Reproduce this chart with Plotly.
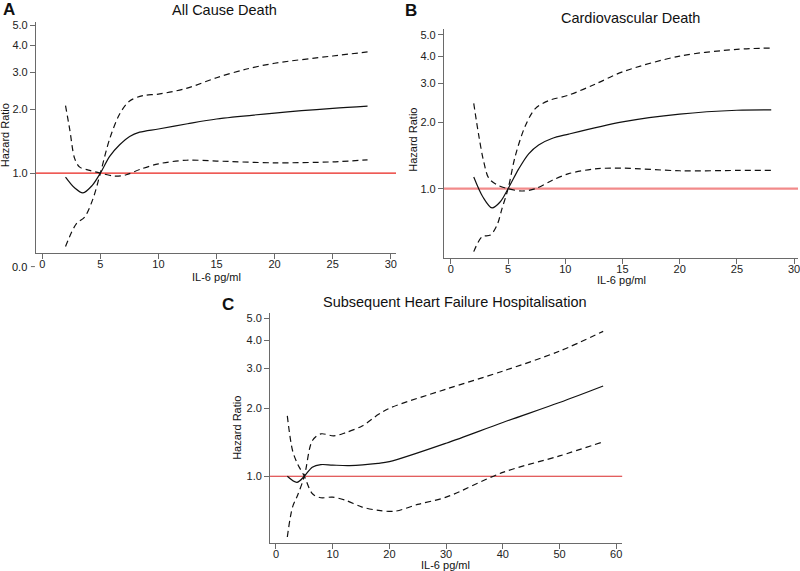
import plotly.graph_objects as go

# ---------------- Panel A: All Cause Death ----------------
a_x_hr = [2.0, 2.8, 3.5, 4.3, 5.0, 5.8, 6.66, 7.52, 8.38, 10.0, 12.5, 15.0, 20.0, 25.0, 28.0]
a_hr = [0.958, 0.85, 0.806, 0.875, 1.0, 1.20, 1.36, 1.49, 1.56, 1.615, 1.71, 1.80, 1.92, 2.02, 2.07]
a_x_ci1 = [2.0, 2.36, 2.79, 3.22, 4.08, 5.0, 6.23, 7.23, 8.38, 10.0, 12.4, 15.0, 20.0, 25.0, 28.0]
a_ci1 = [2.08, 1.61, 1.17, 1.067, 1.03, 1.0, 0.968, 0.982, 1.04, 1.106, 1.15, 1.14, 1.118, 1.13, 1.155]
a_x_ci2 = [2.0, 2.94, 3.65, 4.37, 5.0, 5.8, 6.66, 7.52, 8.66, 10.0, 12.4, 15.0, 17.5, 20.0, 25.0, 28.0]
a_ci2 = [0.45, 0.578, 0.621, 0.758, 1.0, 1.45, 1.90, 2.19, 2.32, 2.36, 2.51, 2.82, 3.09, 3.30, 3.57, 3.73]

# ---------------- Panel B: Cardiovascular Death ----------------
b_x_hr = [2.0, 2.8, 3.6, 4.3, 5.0, 5.93, 6.8, 7.67, 8.83, 10.3, 15.0, 20.0, 25.0, 28.0]
b_hr = [1.13, 0.917, 0.818, 0.87, 1.0, 1.23, 1.44, 1.58, 1.69, 1.77, 2.01, 2.18, 2.27, 2.28]
b_x_ci1 = [2.0, 2.44, 2.88, 3.31, 4.04, 5.0, 6.22, 7.38, 8.83, 10.3, 12.6, 15.0, 20.0, 25.0, 28.0]
b_ci1 = [2.44, 1.74, 1.32, 1.117, 1.04, 1.0, 0.976, 1.0, 1.09, 1.17, 1.23, 1.24, 1.206, 1.21, 1.21]
b_x_ci2 = [2.0, 2.73, 3.46, 4.04, 4.47, 5.0, 5.64, 6.51, 7.38, 8.54, 10.3, 12.6, 15.0, 20.0, 25.0, 28.0]
b_ci2 = [0.518, 0.605, 0.616, 0.684, 0.812, 1.0, 1.415, 1.93, 2.31, 2.51, 2.66, 2.98, 3.39, 4.0, 4.29, 4.35]

# ---------------- Panel C: Subsequent HF Hospitalisation ----------------
c_x_hr = [2.0, 3.7, 5.0, 6.4, 7.9, 10.0, 13.0, 18.0, 20.0, 30.0, 40.0, 50.0, 57.7]
c_hr = [1.0, 0.94, 1.0, 1.096, 1.126, 1.12, 1.115, 1.14, 1.16, 1.40, 1.73, 2.12, 2.51]
c_x_ci1 = [2.0, 2.92, 3.8, 5.0, 6.43, 7.9, 9.95, 12.3, 15.2, 18.1, 21.0, 25.0, 30.0, 40.0, 50.0, 57.7]
c_ci1 = [1.85, 1.30, 1.135, 1.0, 0.836, 0.803, 0.808, 0.782, 0.73, 0.706, 0.70, 0.75, 0.808, 1.04, 1.23, 1.42]
c_x_ci2 = [2.0, 2.92, 3.8, 5.0, 6.43, 7.9, 10.2, 12.3, 15.2, 18.1, 20.0, 30.0, 40.0, 50.0, 57.7]
c_ci2 = [0.538, 0.73, 0.822, 1.0, 1.44, 1.54, 1.51, 1.56, 1.67, 1.88, 2.0, 2.43, 2.92, 3.58, 4.38]

y_tickvals = [1.0, 2.0, 3.0, 4.0, 5.0]
y_ticktext = ["1.0", "2.0", "3.0", "4.0", "5.0"]
ref_hr = 1.0

titles = ["All Cause Death", "Cardiovascular Death", "Subsequent Heart Failure Hospitalisation"]
letters = ["A", "B", "C"]
x_title = "IL-6 pg/ml"
y_title = "Hazard Ratio"

W, H = 800, 571
def px(x):
    return x / W
def py(y):
    return 1 - y / H

panels = [
    dict(xh=a_x_hr, h=a_hr, x1=a_x_ci1, c1=a_ci1, x2=a_x_ci2, c2=a_ci2,
         xdom=[px(36), px(397)], ydom=[py(251), py(19)],
         xr=[-0.55, 30.45], yr=[-0.3756, 0.7136], xticks=[0, 5, 10, 15, 20, 25, 30],
         ref_color="#e8231c", ref_w=1.2),
    dict(xh=b_x_hr, h=b_hr, x1=b_x_ci1, c1=b_ci1, x2=b_x_ci2, c2=b_ci2,
         xdom=[px(445), px(800)], ydom=[py(256), py(26)],
         xr=[-0.61, 30.34], yr=[-0.313, 0.7255], xticks=[0, 5, 10, 15, 20, 25, 30],
         ref_color="#f28a8a", ref_w=2.2),
    dict(xh=c_x_hr, h=c_hr, x1=c_x_ci1, c1=c_ci1, x2=c_x_ci2, c2=c_ci2,
         xdom=[px(270.7), px(624)], ydom=[py(542.7), py(311.7)],
         xr=[-1.05, 61.1], yr=[-0.295, 0.7225], xticks=[0, 10, 20, 30, 40, 50, 60],
         ref_color="#d9282a", ref_w=1.2),
]

fig = go.Figure()
layout_axes = {}
axis_col = "#6a6a6a"
font_fam = "Liberation Sans, Arial, sans-serif"

for i, p in enumerate(panels):
    n = "" if i == 0 else str(i + 1)
    xa, ya = "x" + n, "y" + n
    # reference line at HR = 1
    fig.add_trace(go.Scatter(x=[p["xr"][0], p["xr"][1]], y=[ref_hr, ref_hr], mode="lines",
                             line=dict(color=p["ref_color"], width=p["ref_w"]),
                             xaxis=xa, yaxis=ya, showlegend=False, hoverinfo="skip"))
    for xs, ys, dash in [(p["x1"], p["c1"], "6px,4px"), (p["x2"], p["c2"], "6px,4px"),
                         (p["xh"], p["h"], "solid")]:
        fig.add_trace(go.Scatter(x=xs, y=ys, mode="lines",
                                 line=dict(color="#111111", width=1.2, dash=dash,
                                           shape="spline", smoothing=0.9),
                                 xaxis=xa, yaxis=ya, showlegend=False))
    layout_axes["xaxis" + n] = dict(
        domain=p["xdom"], range=p["xr"], anchor=ya, showline=True, linecolor=axis_col,
        linewidth=1, ticks="outside", ticklen=5, tickcolor=axis_col, tickvals=p["xticks"],
        ticklabelstandoff=-4, ticklabeloverflow="allow",
        showgrid=False, zeroline=False, tickfont=dict(size=11, color="#222", family=font_fam),
        fixedrange=True)
    layout_axes["yaxis" + n] = dict(
        domain=p["ydom"], type="log", range=p["yr"], anchor=xa, showline=True,
        linecolor=axis_col, linewidth=1, ticks="outside", ticklen=5, tickcolor=axis_col,
        tickvals=y_tickvals, ticktext=y_ticktext, showgrid=False, zeroline=False,
        tickfont=dict(size=11, color="#222", family=font_fam), fixedrange=True)

annotations = []
def ann(text, x, y, size, bold=False, angle=0, xanchor="center"):
    annotations.append(dict(text=("<b>%s</b>" % text) if bold else text,
                            x=px(x), y=py(y), xref="paper", yref="paper",
                            xanchor=xanchor, yanchor="middle", showarrow=False,
                            textangle=angle,
                            font=dict(size=size, color="#111", family=font_fam)))

# panel letters and titles
ann(letters[0], 9, 7, 17, bold=True)
ann(letters[1], 412, 8, 17, bold=True)
ann(letters[2], 229, 303.5, 17, bold=True)
ann(titles[0], 225, 7, 14.5)
ann(titles[1], 632, 15, 14.5)
ann(titles[2], 456.5, 301, 14.5)
# axis titles
ann(x_title, 217, 275, 11)
ann(x_title, 623, 278, 11)
ann(x_title, 447, 565, 11)
ann(y_title, 5, 133, 11, angle=-90)
ann(y_title, 414, 137.5, 11, angle=-90)
ann(y_title, 238, 426.7, 11, angle=-90)
# stray "0.0" label under panel A
ann("0.0", 29.5, 265, 11, xanchor="right")

fig.update_layout(
    width=W, height=H, margin=dict(l=0, r=0, t=0, b=0),
    paper_bgcolor="white", plot_bgcolor="white",
    annotations=annotations,
    shapes=[dict(type="line", xref="paper", yref="paper", x0=px(31), x1=px(35),
                 y0=py(265), y1=py(265), line=dict(color=axis_col, width=1))],
    **layout_axes,
)

fig.write_html("out.html", config={"displayModeBar": False},
               post_script="document.body.style.margin='0';document.body.style.padding='0';"
                           "document.body.style.overflow='hidden';"
                           "document.documentElement.style.overflow='hidden';")
